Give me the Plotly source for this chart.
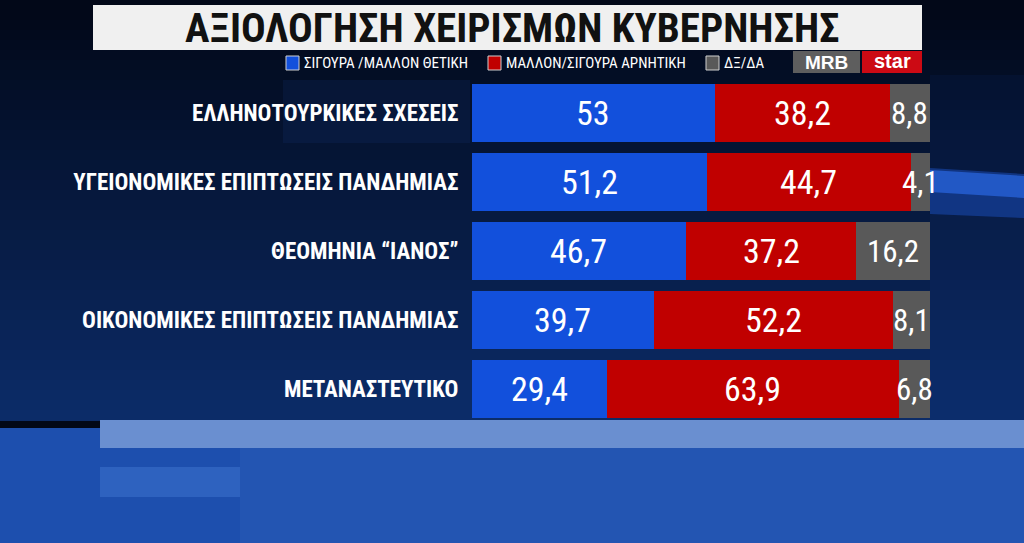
import plotly.graph_objects as go

categories = ["ΕΛΛΗΝΟΤΟΥΡΚΙΚΕΣ ΣΧΕΣΕΙΣ", "ΥΓΕΙΟΝΟΜΙΚΕΣ ΕΠΙΠΤΩΣΕΙΣ ΠΑΝΔΗΜΙΑΣ",
              "ΘΕΟΜΗΝΙΑ “ΙΑΝΟΣ”", "ΟΙΚΟΝΟΜΙΚΕΣ ΕΠΙΠΤΩΣΕΙΣ ΠΑΝΔΗΜΙΑΣ", "ΜΕΤΑΝΑΣΤΕΥΤΙΚΟ"]
positive = [53, 51.2, 46.7, 39.7, 29.4]
negative = [38.2, 44.7, 37.2, 52.2, 63.9]
dkda = [8.8, 4.1, 16.2, 8.1, 6.8]
series_names = ["ΣΙΓΟΥΡΑ /ΜΑΛΛΟΝ ΘΕΤΙΚΗ", "ΜΑΛΛΟΝ/ΣΙΓΟΥΡΑ ΑΡΝΗΤΙΚΗ", "ΔΞ/ΔΑ"]
colors = ["#1250dc", "#c00000", "#595959"]
title = "ΑΞΙΟΛΟΓΗΣΗ ΧΕΙΡΙΣΜΩΝ ΚΥΒΕΡΝΗΣΗΣ"

W, H = 1024, 543
COND = "Roboto Condensed, DejaVu Sans Condensed, Roboto, sans-serif"

def fmt(v):
    return ("%g" % v).replace(".", ",")

def py(p):
    return 1 - p / H

def px(p):
    return p / W

fig = go.Figure()
all_series = [positive, negative, dkda]
for name, vals, col in zip(series_names, all_series, colors):
    fig.add_trace(go.Bar(
        y=categories, x=vals, orientation="h", name=name,
        marker=dict(color=col, line=dict(width=0)),
        hoverinfo="x+y", showlegend=False,
    ))

annotations = []
# value labels, centred in each stacked segment (positions derived from the data)
label_sizes = [34, 34, 31]
for ci, cat in enumerate(categories):
    start = 0.0
    for si, vals in enumerate(all_series):
        v = vals[ci]
        annotations.append(dict(text=fmt(v), x=start + v / 2, y=cat, xref="x", yref="y",
                                showarrow=False, xanchor="center", yanchor="middle",
                                font=dict(family=COND, size=label_sizes[si], color="white")))
        start += v

shapes = []
top = (2, 8, 24)
mid = (12, 44, 104)
n = 42
for i in range(n):
    y0 = 420 * i / n
    y1 = 420 * (i + 1) / n + 1
    t = i / (n - 1)
    c = tuple(int(top[k] + (mid[k] - top[k]) * t) for k in range(3))
    shapes.append(dict(type="rect", xref="paper", yref="paper", x0=0, x1=1,
                       y0=py(y1), y1=py(y0), fillcolor="rgb(%d,%d,%d)" % c,
                       line=dict(width=0), layer="below"))
# subtle lighter panels
shapes.append(dict(type="rect", xref="paper", yref="paper", x0=px(283), x1=px(470),
                   y0=py(143), y1=py(80), fillcolor="rgba(40,90,190,0.10)",
                   line=dict(width=0), layer="below"))
shapes.append(dict(type="rect", xref="paper", yref="paper", x0=px(930), x1=1,
                   y0=py(420), y1=py(75), fillcolor="rgba(20,60,150,0.10)",
                   line=dict(width=0), layer="below"))
# bright streak on the right
shapes.append(dict(type="path", xref="paper", yref="paper",
                   path="M %f,%f L 1,%f L 1,%f L %f,%f Z" % (px(930), py(168), py(174), py(218), px(930), py(214)),
                   fillcolor="rgba(25,75,180,0.55)", line=dict(width=0), layer="below"))
shapes.append(dict(type="path", xref="paper", yref="paper",
                   path="M %f,%f L 1,%f L 1,%f L %f,%f Z" % (px(930), py(170), py(176), py(198), px(930), py(192)),
                   fillcolor="rgba(40,100,220,0.75)", line=dict(width=0), layer="below"))
# bottom blue area
shapes.append(dict(type="rect", xref="paper", yref="paper", x0=0, x1=1,
                   y0=0, y1=py(428), fillcolor="#1d4fae", line=dict(width=0), layer="below"))
shapes.append(dict(type="rect", xref="paper", yref="paper", x0=px(100), x1=1,
                   y0=py(448), y1=py(420), fillcolor="#6a8fd0", line=dict(width=0), layer="below"))
shapes.append(dict(type="rect", xref="paper", yref="paper", x0=px(100), x1=px(240),
                   y0=py(497), y1=py(467), fillcolor="#2e62bf", line=dict(width=0), layer="below"))
shapes.append(dict(type="rect", xref="paper", yref="paper", x0=px(240), x1=1,
                   y0=0, y1=py(448), fillcolor="#2355b2", line=dict(width=0), layer="below"))
# title box
shapes.append(dict(type="rect", xref="paper", yref="paper", x0=px(93), x1=px(922),
                   y0=py(50), y1=py(5), fillcolor="#f0f0f0", line=dict(width=0), layer="above"))
# legend squares
for xs, col in zip([286, 488, 706], colors):
    shapes.append(dict(type="rect", xref="paper", yref="paper", x0=px(xs), x1=px(xs + 13),
                       y0=py(70), y1=py(56), fillcolor=col,
                       line=dict(width=1, color="#d0d0d0"), layer="above"))
# logo boxes
shapes.append(dict(type="rect", xref="paper", yref="paper", x0=px(793), x1=px(860),
                   y0=py(73), y1=py(51), fillcolor="#5e5e5e", line=dict(width=0), layer="above"))
shapes.append(dict(type="rect", xref="paper", yref="paper", x0=px(862), x1=px(922),
                   y0=py(73), y1=py(51), fillcolor="#cc0a14", line=dict(width=0), layer="above"))

annotations += [
    dict(text="<b>" + title + "</b>", x=px(512), y=py(28), xref="paper", yref="paper",
         showarrow=False, font=dict(family=COND, size=41, color="#111111"),
         xanchor="center", yanchor="middle"),
    dict(text="<b>MRB</b>", x=px(826), y=py(62), xref="paper", yref="paper", showarrow=False,
         font=dict(family="Liberation Sans, Arial, sans-serif", size=19, color="white"),
         xanchor="center", yanchor="middle"),
    dict(text="<b>star</b>", x=px(892), y=py(61), xref="paper", yref="paper", showarrow=False,
         font=dict(family="Liberation Sans, Arial, sans-serif", size=20, color="white"),
         xanchor="center", yanchor="middle"),
]
for xs, name in zip([302, 504, 722], series_names):
    annotations.append(dict(text=name, x=px(xs), y=py(63), xref="paper", yref="paper",
                            showarrow=False, xanchor="left", yanchor="middle",
                            font=dict(family=COND, size=15, color="white")))

fig.update_layout(
    width=W, height=H,
    margin=dict(l=0, r=0, t=0, b=0),
    paper_bgcolor="#020817", plot_bgcolor="rgba(0,0,0,0)",
    barmode="stack", bargap=0.16,
    shapes=shapes, annotations=annotations,
    xaxis=dict(domain=[px(472), px(930)], range=[0, 100], visible=False, fixedrange=True),
    yaxis=dict(domain=[py(423.5), py(78.5)], autorange="reversed", automargin=False,
               tickmode="array", tickvals=categories,
               ticktext=["<b>" + c + "</b>" for c in categories],
               tickfont=dict(family=COND, size=23, color="white"),
               ticks="outside", ticklen=8, tickcolor="rgba(0,0,0,0)",
               showgrid=False, zeroline=False, showline=False, fixedrange=True),
    font=dict(family=COND),
)

fig.write_html("out.html", config={"displayModeBar": False},
               post_script="document.body.style.margin='0';document.body.style.overflow='hidden';")
